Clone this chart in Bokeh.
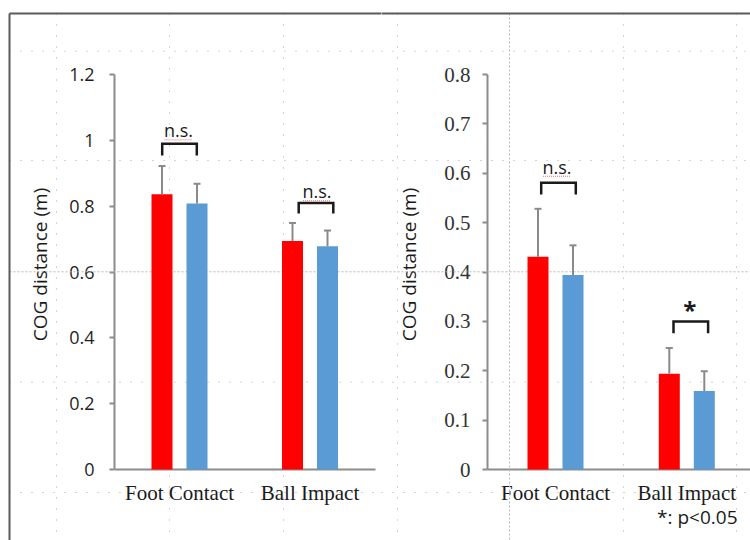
import numpy as np
from bokeh.plotting import figure
from bokeh.models import Range1d, FixedTicker, CustomJSTickFormatter, ColumnDataSource
from bokeh.core.properties import value
from bokeh.layouts import row
from bokeh.embed import file_html
from bokeh.resources import INLINE

# ---------------- data ----------------
categories = ["Foot Contact", "Ball Impact"]

left_red_mean = [0.836, 0.694]
left_red_sd = [0.086, 0.055]
left_blue_mean = [0.808, 0.678]
left_blue_sd = [0.060, 0.048]

right_red_mean = [0.431, 0.194]
right_red_sd = [0.097, 0.052]
right_blue_mean = [0.394, 0.159]
right_blue_sd = [0.060, 0.040]

left_ticks = [0, 0.2, 0.4, 0.6, 0.8, 1.0, 1.2]
right_ticks = [0, 0.1, 0.2, 0.3, 0.4, 0.5, 0.6, 0.7, 0.8]

left_sig = ["n.s.", "n.s."]
right_sig = ["n.s.", "*"]
left_bracket_top = [0.990, 0.810]
left_bracket_leg = [0.954, 0.778]
right_bracket_top = [0.581, 0.300]
right_bracket_leg = [0.557, 0.276]
left_sig_y = [1.009, 0.824]
right_sig_y = [0.599, 0.302]

y_title = "COG distance (m)"
footnote = "*: p<0.05"

# ---------------- styles / layout (page pixels) ----------------
RED = "#FF0000"
BLUE = "#5B9BD5"
ERR = "#8a8a8a"
AXIS = "#8c8c8c"
INK = "#1a1a1a"

PAGE_L, PAGE_T, PAGE_R, PAGE_B = 0, 0, 750, 540
FRAME_T, FRAME_B = 59, 469
AXIS_TOP = 74
BORDER_X, BORDER_Y = 9, 13
BAR_OFF_PX, BAR_W_PX, CAP_PX = 17.5, 21, 7
BRACKET_HALF_PX = 17.3
# renderer places the alphabetic baseline a little low; lift texts by these pixels
LIFT_NS, LIFT_STAR, LIFT_NOTE = 7, 11, 7

H_SPARSE = [50.7, 160, 381.7, 492]
H_DENSE = [271.3]
V_SPARSE = [56, 169, 283, 397, 623, 736]
V_DENSE = [509]

LEFT_CFG = dict(fig_l=0, fig_r=381, frame_l=114, frame_r=375, unit_px=130.5,
                first_center=179, bracket_shift=[0, 6], sig_shift=[-1, 7])
RIGHT_CFG = dict(fig_l=381, fig_r=750, frame_l=487, frame_r=750, unit_px=131.3,
                 first_center=555, bracket_shift=[3, 4], sig_shift=[1.5, 3])


def make_panel(cfg, red_m, red_sd, blue_m, blue_sd, ticks, sig, b_top, b_leg, sig_y,
               tick_font, tick_size, tick_color, tick_standoff, title_standoff, note=None):
    ymax = ticks[-1]
    ppy = (FRAME_B - AXIS_TOP) / ymax
    ppx = cfg["unit_px"]
    x0 = 0.5 - (cfg["first_center"] - cfg["frame_l"]) / ppx
    x1 = x0 + (cfg["frame_r"] - cfg["frame_l"]) / ppx
    y1 = (FRAME_B - FRAME_T) / ppy

    def dx(px):
        return x0 + (px - cfg["frame_l"]) / ppx

    def dy(py):
        return (FRAME_B - py) / ppy

    p = figure(width=cfg["fig_r"] - cfg["fig_l"], height=PAGE_B - PAGE_T,
               x_range=Range1d(x0, x1), y_range=Range1d(0, y1),
               output_backend="svg", toolbar_location=None,
               min_border_left=cfg["frame_l"] - cfg["fig_l"],
               min_border_right=cfg["fig_r"] - cfg["frame_r"],
               min_border_top=FRAME_T - PAGE_T,
               min_border_bottom=PAGE_B - FRAME_B)
    p.outline_line_color = None
    p.grid.visible = False
    p.background_fill_color = "white"
    p.border_fill_color = "white"

    # background dotted guide lines (slide grid)
    def guide(hs, vs):
        xs, ys = [], []
        for h in hs:
            xs += [dx(max(cfg["fig_l"], BORDER_X)), dx(cfg["fig_r"]), np.nan]
            ys += [dy(h), dy(h), np.nan]
        for v in vs:
            if cfg["fig_l"] <= v < cfg["fig_r"]:
                xs += [dx(v), dx(v), np.nan]
                ys += [dy(BORDER_Y), dy(PAGE_B), np.nan]
        return np.array(xs, dtype=float), np.array(ys, dtype=float)

    gx, gy = guide(H_SPARSE, V_SPARSE)
    p.multi_line(xs=[gx], ys=[gy], line_color="#a8a8a8", line_width=1,
                 line_dash="1 10", level="overlay")
    gx, gy = guide(H_DENSE, V_DENSE)
    p.multi_line(xs=[gx], ys=[gy], line_color="#b8b8b8", line_width=1,
                 line_dash="2 2", level="overlay")

    # slide border (top and left)
    bxs = [dx(max(cfg["fig_l"], BORDER_X)), dx(cfg["fig_r"])]
    bys = [dy(BORDER_Y), dy(BORDER_Y)]
    if cfg["fig_l"] <= BORDER_X:
        bxs = [dx(BORDER_X), dx(BORDER_X), np.nan] + bxs
        bys = [dy(PAGE_B), dy(BORDER_Y), np.nan] + bys
    p.multi_line(xs=[np.array(bxs, dtype=float)], ys=[np.array(bys, dtype=float)],
                 line_color="#5a5a5a", line_width=2, level="overlay")

    # bars with error bars
    idx = np.arange(len(categories)) + 0.5
    off = BAR_OFF_PX / ppx
    w = BAR_W_PX / ppx
    for means, sds, color, sign in ((red_m, red_sd, RED, -1), (blue_m, blue_sd, BLUE, 1)):
        src = ColumnDataSource(dict(x=idx + sign * off, top=means,
                                    err=np.array(means) + np.array(sds)))
        p.vbar(x="x", top="top", bottom=0, width=w, source=src,
               fill_color=color, line_color=None, level="overlay")
        p.segment(x0="x", y0="top", x1="x", y1="err", source=src,
                  line_color=ERR, line_width=2, level="overlay")
        p.scatter(x="x", y="err", marker="dash", size=CAP_PX, source=src,
                  line_color=ERR, line_width=2, level="overlay")

    # significance brackets
    bx, by = [], []
    hw = BRACKET_HALF_PX / ppx
    for i in range(len(categories)):
        c = idx[i] + cfg["bracket_shift"][i] / ppx
        bx.append([c - hw, c - hw, c + hw, c + hw])
        by.append([b_leg[i], b_top[i], b_top[i], b_leg[i]])
    p.multi_line(xs=bx, ys=by, line_color=INK, line_width=2.5,
                 line_join="miter", level="overlay")

    for i, s in enumerate(sig):
        c = idx[i] + cfg["sig_shift"][i] / ppx
        star = s == "*"
        p.text(x=[c], y=[sig_y[i]], text=[s], text_align="center",
               text_baseline="alphabetic", text_font=value("Open Sans"),
               text_font_size="24px" if star else "18px",
               text_font_style="bold" if star else "normal",
               y_offset=-(LIFT_STAR if star else LIFT_NS),
               text_color=INK, level="overlay")
        if not star:
            yy = sig_y[i] - 2.5 / ppy
            p.segment(x0=[c - 14 / ppx], y0=[yy], x1=[c + 14 / ppx], y1=[yy],
                      line_color="#e87070", line_width=1, line_dash="1 1", level="overlay")

    if note is not None:
        anchor_py = FRAME_B - 20
        p.text(x=[dx(737)], y=[dy(anchor_py)], text=[note], text_align="right",
               text_baseline="alphabetic", text_font=value("Open Sans"),
               text_font_size="19px", text_color=INK,
               y_offset=523 - anchor_py - LIFT_NOTE, level="overlay")

    # axes
    ya = p.yaxis[0]
    ya.ticker = FixedTicker(ticks=ticks)
    ya.formatter = CustomJSTickFormatter(code="return String(Math.round(tick * 10) / 10);")
    ya.bounds = (0, ymax)
    ya.axis_line_color = AXIS
    ya.axis_line_width = 2
    ya.major_tick_line_color = AXIS
    ya.major_tick_line_width = 2
    ya.major_tick_out = 5
    ya.major_tick_in = 0
    ya.minor_tick_line_color = None
    ya.major_label_text_font = tick_font
    ya.major_label_text_font_size = tick_size
    ya.major_label_text_color = tick_color
    ya.major_label_standoff = tick_standoff
    ya.axis_label = y_title
    ya.axis_label_text_font = "Open Sans"
    ya.axis_label_text_font_size = "19px"
    ya.axis_label_text_font_style = "normal"
    ya.axis_label_text_color = INK
    ya.axis_label_standoff = title_standoff

    xa = p.xaxis[0]
    xa.ticker = FixedTicker(ticks=[float(v) for v in idx])
    xa.formatter = CustomJSTickFormatter(
        args=dict(names=categories),
        code="const i = Math.round(tick - 0.5); return (i >= 0 && i < names.length) ? names[i] : '';")
    xa.axis_line_color = AXIS
    xa.axis_line_width = 2
    xa.major_tick_line_color = None
    xa.major_tick_out = 0
    xa.major_tick_in = 0
    xa.minor_tick_line_color = None
    xa.major_label_text_font = "Liberation Serif"
    xa.major_label_text_font_size = "21px"
    xa.major_label_text_color = INK
    xa.major_label_standoff = 11
    return p


p_left = make_panel(LEFT_CFG, left_red_mean, left_red_sd, left_blue_mean, left_blue_sd,
                    left_ticks, left_sig, left_bracket_top, left_bracket_leg, left_sig_y,
                    "Open Sans", "18px", "#1f1f1f", 15, 13)
p_right = make_panel(RIGHT_CFG, right_red_mean, right_red_sd, right_blue_mean, right_blue_sd,
                     right_ticks, right_sig, right_bracket_top, right_bracket_leg, right_sig_y,
                     "Liberation Serif", "21px", "#333333", 12, 19, note=footnote)

layout = row(p_left, p_right)
open("out.html", "w").write(file_html(layout, INLINE))
